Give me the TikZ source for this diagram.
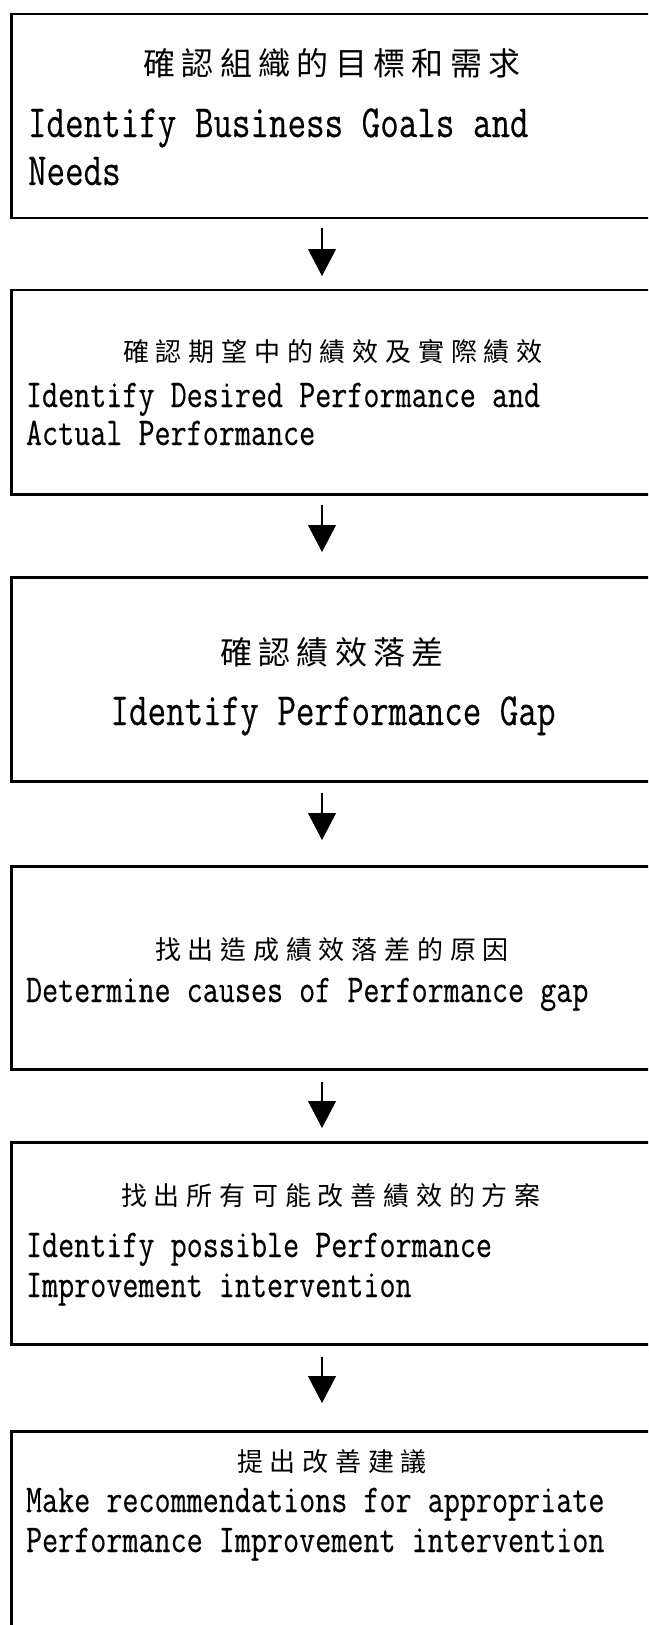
\documentclass[tikz,border=0pt]{standalone}
\usepackage{fontspec}
\usepackage{graphicx}
\usetikzlibrary{arrows.meta}
\newfontfamily\cjk{Noto Sans CJK TC}
\newfontfamily\engfont[FakeBold=0.4]{lmmono12-regular.otf}
\makeatletter
\newcommand\spacedcjk[2]{\def\sc@sep{}\@tfor\sc@ch:=#2\do{\sc@sep\sc@ch\def\sc@sep{\hspace{#1}}}}
\makeatother
\newcommand\cnL[1]{{\cjk\fontsize{32pt}{32pt}\selectfont\spacedcjk{6.3pt}{#1}}}
\newcommand\cnS[1]{{\cjk\fontsize{26pt}{26pt}\selectfont\spacedcjk{6.8pt}{#1}}}
\newcommand\enL[1]{\scalebox{1}[1.28]{\engfont\fontsize{36pt}{37pt}\selectfont #1}}
\newcommand\enS[1]{\scalebox{1}[1.26]{\engfont\fontsize{31.2pt}{32pt}\selectfont #1}}
\begin{document}
\begin{tikzpicture}[x=1pt,y=-1pt,
  stepbox/.style={draw, line width=2.5pt, minimum width=644pt, anchor=north west, inner sep=0pt},
  txt/.style={inner sep=0pt, outer sep=0pt},
  arr/.style={line width=1.1pt, -{Triangle[width=28pt,length=27pt]}}]
\path[use as bounding box] (0,0) rectangle (648,1625);
\clip (0,0) rectangle (648,1625);
% boxes
\node[stepbox, minimum height=204pt] (b1) at (10,12.7) {};
\node[stepbox, minimum height=204.5pt] (b2) at (10,288.5) {};
\node[stepbox, minimum height=204pt] (b3) at (10,576) {};
\node[stepbox, minimum height=203pt] (b4) at (10,865) {};
\node[stepbox, minimum height=202pt] (b5) at (10,1141) {};
\node[stepbox, minimum height=210pt] (b6) at (10,1430) {};
% box 1
\node[txt] (t1c) at (332,63) {\cnL{確認組織的目標和需求}};
\node[txt, anchor=base west] (t1e1) at (28,137) {\enL{Identify Business Goals and}};
\node[txt, anchor=base west] (t1e2) at (28,185) {\enL{Needs}};
% box 2
\node[txt] (t2c) at (333,352) {\cnS{確認期望中的績效及實際績效}};
\node[txt, anchor=base west] (t2e1) at (26,407) {\enS{Identify Desired Performance and}};
\node[txt, anchor=base west] (t2e2) at (26,445) {\enS{Actual Performance}};
% box 3
\node[txt] (t3c) at (332,652) {\cnL{確認績效落差}};
\node[txt, anchor=base] (t3e) at (333,725) {\enL{Identify Performance Gap}};
% box 4
\node[txt] (t4c) at (332,950) {\cnS{找出造成績效落差的原因}};
\node[txt, anchor=base west] (t4e) at (26,1002) {\enS{Determine causes of Performance gap}};
% box 5
\node[txt] (t5c) at (331,1196) {\cnS{找出所有可能改善績效的方案}};
\node[txt, anchor=base west] (t5e1) at (26,1257) {\enS{Identify possible Performance}};
\node[txt, anchor=base west] (t5e2) at (26,1297) {\enS{Improvement intervention}};
% box 6
\node[txt] (t6c) at (332,1462) {\cnS{提出改善建議}};
\node[txt, anchor=base west] (t6e1) at (26,1512) {\enS{Make recommendations for appropriate}};
\node[txt, anchor=base west] (t6e2) at (26,1552) {\enS{Performance Improvement intervention}};
% arrows
\coordinate (a1s) at (322,228);  \coordinate (a1e) at (322,276);
\coordinate (a2s) at (322,505);  \coordinate (a2e) at (322,552);
\coordinate (a3s) at (322,793);  \coordinate (a3e) at (322,840);
\coordinate (a4s) at (322,1082); \coordinate (a4e) at (322,1128);
\coordinate (a5s) at (322,1357); \coordinate (a5e) at (322,1403);
\draw[arr] (a1s) -- (a1e);
\draw[arr] (a2s) -- (a2e);
\draw[arr] (a3s) -- (a3e);
\draw[arr] (a4s) -- (a4e);
\draw[arr] (a5s) -- (a5e);
\end{tikzpicture}
\end{document}
